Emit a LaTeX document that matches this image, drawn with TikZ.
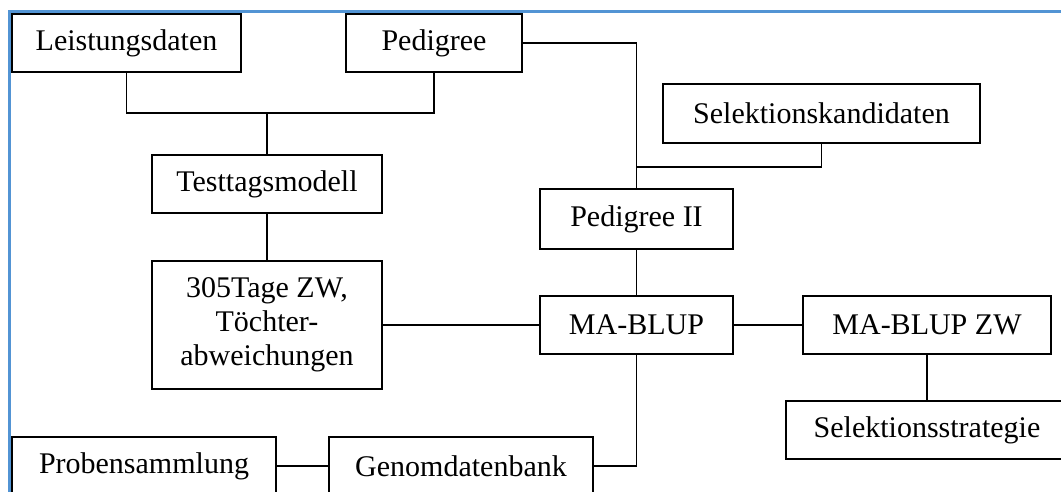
\documentclass[tikz,border=0pt]{standalone}
\usepackage{fontspec}
\setmainfont{Liberation Serif}
\begin{document}
\begin{tikzpicture}[x=1pt,y=-1pt,
  box/.style={draw,line width=1.6pt,inner sep=0pt,align=center,
    font=\fontsize{30}{34}\selectfont},
  link/.style={line width=1.6pt},
  frameline/.style={line width=3pt,draw=frameblue}]
\definecolor{frameblue}{RGB}{82,148,212}
\useasboundingbox (0,0) rectangle (1061,491);
\clip (0,0) rectangle (1061,491);
\fill[white] (0,0) rectangle (1061,491);

% outer frame
\draw[frameline] (9,495) -- (9,11) -- (1065,11);

% boxes
\node[box,minimum width=229,minimum height=58] (lei)  at (126.5,43) {Leistungsdaten};
\node[box,minimum width=176,minimum height=58] (ped)  at (434,43)   {Pedigree};
\node[box,minimum width=230,minimum height=58] (tt)   at (267,184)  {Testtagsmodell};
\node[box,minimum width=230,minimum height=128](zw)   at (267,325)  {305Tage ZW,\\Töchter-\\abweichungen};
\node[box,minimum width=317,minimum height=59] (sk)   at (821.5,113.5) {Selektionskandidaten};
\node[box,minimum width=193,minimum height=60] (ped2) at (636.5,219) {Pedigree II};
\node[box,minimum width=193,minimum height=58] (ma)   at (636.5,325) {MA-BLUP};
\node[box,minimum width=248,minimum height=58] (mazw) at (927,325)  {MA-BLUP ZW};
\node[box,minimum width=282,minimum height=58] (ss)   at (927,430)  {Selektionsstrategie};
\node[box,minimum width=264,minimum height=58] (gen)  at (461,466)  {Genomdatenbank};
\node[box,minimum width=264,minimum height=58] (prob) at (144,466)  {Probensammlung};

% junction points
\coordinate (j1) at (267,113);
\coordinate (j2) at (636.5,167);

% connectors
\draw[link] (lei.south) |- (j1) -| (ped.south);
\draw[link] (j1) -- (tt.north);
\draw[link] (tt.south) -- (zw.north);
\draw[link] (ped.east) -| (ped2.north);
\draw[link] (sk.south) |- (j2);
\draw[link] (ped2.south) -- (ma.north);
\draw[link] (zw.east) -- (ma.west);
\draw[link] (ma.east) -- (mazw.west);
\draw[link] (mazw.south) -- (ss.north);
\draw[link] (ma.south) |- (gen.east);
\draw[link] (prob.east) -- (gen.west);
\end{tikzpicture}
\end{document}
